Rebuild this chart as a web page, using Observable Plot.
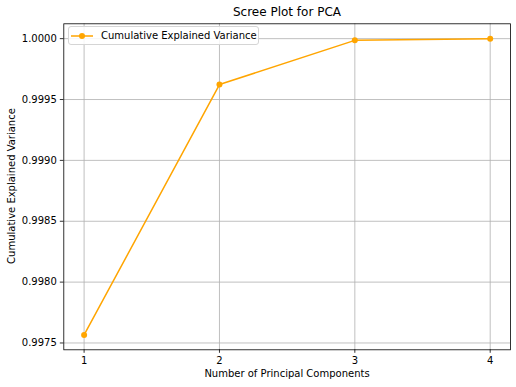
<!DOCTYPE html>
<html>
<head>
<meta charset="utf-8">
<script src="https://cdn.jsdelivr.net/npm/d3@7"></script>
<script src="https://cdn.jsdelivr.net/npm/@observablehq/plot@0.6"></script>
<style>
  html, body { margin: 0; padding: 0; background: #fff; }
  #wrap { position: relative; width: 516px; height: 387px; font-family: "DejaVu Sans", sans-serif; color: #000; }
  .lbl { position: absolute; white-space: nowrap; line-height: 1; }
  #title { font-size: 12px; left: 287px; top: 12px; transform: translate(-50%, -50%); }
  #xlabel { font-size: 10px; left: 287px; top: 374px; transform: translate(-50%, -50%); }
  #ylabel { font-size: 10px; left: 12px; top: 186px; transform: translate(-50%, -50%) rotate(-90deg); }
  #legend { position: absolute; left: 68px; top: 26px; width: 191px; height: 19px; box-sizing: border-box;
            border: 1px solid #d5d5d5; border-radius: 3px; background: rgba(255,255,255,0.85);
            font-size: 10px; display: flex; align-items: center; }
  #legend svg { margin-left: 2px; margin-right: 7px; }
</style>
</head>
<body>
<div id="wrap">
  <div id="chart"></div>
  <div id="title" class="lbl"></div>
  <div id="xlabel" class="lbl"></div>
  <div id="ylabel" class="lbl"></div>
  <div id="legend"></div>
</div>
<script>
const components = [1, 2, 3, 4];
const cumulativeVariance = [0.997566, 0.999623, 0.999986, 1.0];
const yTicks = [0.9975, 0.9980, 0.9985, 0.9990, 0.9995, 1.0000];
const titleText = "Scree Plot for PCA";
const xLabelText = "Number of Principal Components";
const yLabelText = "Cumulative Explained Variance";
const seriesName = "Cumulative Explained Variance";
const lineColor = "#ffa500";

const data = components.map((c, i) => ({ pc: c, v: cumulativeVariance[i] }));

const chart = Plot.plot({
  width: 516,
  height: 387,
  marginLeft: 63.3,
  marginRight: 6,
  marginTop: 23.3,
  marginBottom: 37.7,
  style: { fontFamily: "DejaVu Sans, sans-serif", fontSize: "10px", color: "#000", background: "#fff", overflow: "visible" },
  x: { domain: [0.85, 4.15], label: null },
  y: { domain: [0.997444, 1.000122], label: null },
  marks: [
    Plot.gridX(components, { stroke: "#b0b0b0", strokeOpacity: 1, strokeWidth: 0.8 }),
    Plot.gridY(yTicks, { stroke: "#b0b0b0", strokeOpacity: 1, strokeWidth: 0.8 }),
    Plot.axisX(components, { tickSize: 3.5, tickPadding: 3.5, tickFormat: d => String(d), label: null, stroke: "#000", strokeWidth: 0.8 }),
    Plot.axisY(yTicks, { tickSize: 3.5, tickPadding: 3.5, tickFormat: d => d.toFixed(4), label: null, stroke: "#000", strokeWidth: 0.8 }),
    Plot.line(data, { x: "pc", y: "v", stroke: lineColor, strokeWidth: 1.5 }),
    Plot.dot(data, { x: "pc", y: "v", fill: lineColor, r: 3 }),
    Plot.frame({ stroke: "#000", strokeWidth: 0.8 })
  ]
});
document.getElementById("chart").appendChild(chart);

document.getElementById("title").textContent = titleText;
document.getElementById("xlabel").textContent = xLabelText;
document.getElementById("ylabel").textContent = yLabelText;

const legend = document.getElementById("legend");
const sw = d3.create("svg").attr("width", 23).attr("height", 10);
sw.append("line").attr("x1", 0).attr("x2", 22).attr("y1", 5).attr("y2", 5).attr("stroke", lineColor).attr("stroke-width", 1.5);
sw.append("circle").attr("cx", 11).attr("cy", 5).attr("r", 3).attr("fill", lineColor);
legend.appendChild(sw.node());
const lt = document.createElement("span");
lt.textContent = seriesName;
legend.appendChild(lt);
</script>
</body>
</html>
